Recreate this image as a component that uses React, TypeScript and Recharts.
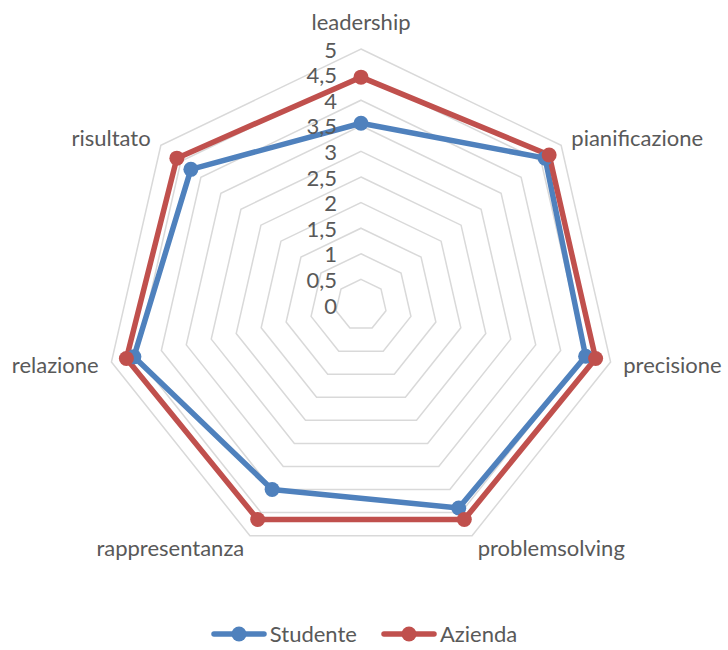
import React from 'react';
import { RadarChart, Radar, PolarGrid, PolarAngleAxis, PolarRadiusAxis, Legend } from 'recharts';

const categories = ['leadership', 'pianificazione', 'precisione', 'problemsolving', 'rappresentanza', 'relazione', 'risultato'];
const studente = [3.55, 4.6, 4.5, 4.4, 4.0, 4.55, 4.25];
const azienda = [4.45, 4.7, 4.7, 4.65, 4.65, 4.7, 4.6];
const radiusTicks = [0, 0.5, 1, 1.5, 2, 2.5, 3, 3.5, 4, 4.5, 5];
const seriesNames = ['Studente', 'Azienda'];
const seriesColors = ['#4f81bd', '#c0504d'];

const data = categories.map((c, i) => ({ cat: c, Studente: studente[i], Azienda: azienda[i] }));

const W = 728;
const H = 650;
const CX = 361;
const CY = 305;
const R = 256;
const FONT = 'Lato, "Open Sans", sans-serif';
const FS = 22;
const TEXT = '#595959';

const AngleTick = (props: any) => {
  const { x, y, payload } = props;
  const dx = x - CX;
  const dy = y - CY;
  const len = Math.hypot(dx, dy) || 1;
  const ux = dx / len;
  const uy = dy / len;
  const vx = CX + ux * R;
  const vy = CY + uy * R;
  let tx = vx + ux * 13;
  let ty = vy + uy * 13;
  let anchor: 'start' | 'middle' | 'end' = 'middle';
  if (Math.abs(ux) < 0.1) {
    tx = vx;
    ty = vy + (uy < 0 ? -28 : 28);
  } else {
    anchor = ux > 0 ? 'start' : 'end';
  }
  return (
    <text x={tx} y={ty} textAnchor={anchor} dominantBaseline="central" fill={TEXT} fontSize={FS} fontFamily={FONT}>
      {payload.value}
    </text>
  );
};

const RadiusTick = (props: any) => {
  const { x, y, payload } = props;
  const label = String(payload.value).replace('.', ',');
  return (
    <text x={x - 24} y={y} textAnchor="end" dominantBaseline="central" fill={TEXT} fontSize={FS} fontFamily={FONT}>
      {label}
    </text>
  );
};

const makeDot = (color: string) => (p: any) => (
  <circle key={`d-${p.index}`} cx={p.cx} cy={p.cy} r={7.5} fill={color} stroke="none" />
);

const renderLegend = () => (
  <div style={{ display: 'flex', justifyContent: 'center', alignItems: 'center', fontFamily: FONT, fontSize: FS, color: TEXT }}>
    {seriesNames.map((n, i) => (
      <div key={n} style={{ display: 'flex', alignItems: 'center', marginLeft: i === 0 ? 0 : 24 }}>
        <svg width={56} height={18} style={{ marginRight: 3 }}>
          <line x1={3} y1={9} x2={53} y2={9} stroke={seriesColors[i]} strokeWidth={5.5} strokeLinecap="round" />
          <circle cx={28} cy={9} r={7.5} fill={seriesColors[i]} />
        </svg>
        <span>{n}</span>
      </div>
    ))}
  </div>
);

export default function App() {
  return (
    <div style={{ position: 'absolute', left: 0, top: 0, width: W, height: H, background: '#fff' }}>
      <RadarChart width={W} height={H} data={data} cx={CX} cy={CY} outerRadius={R} margin={{ top: 0, right: 0, bottom: 0, left: 0 }}>
        <PolarGrid gridType="polygon" radialLines={false} stroke="#d9d9d9" strokeWidth={1.5} />
        <PolarAngleAxis dataKey="cat" tick={AngleTick} tickLine={false} axisLine={false} />
        <PolarRadiusAxis angle={90} type="number" domain={[0, 5]} ticks={radiusTicks as any} tickCount={11} tick={RadiusTick} tickLine={false} axisLine={false} />
        <Radar name="Studente" dataKey="Studente" stroke={seriesColors[0]} strokeWidth={5.5} strokeLinejoin="round" fill="none" fillOpacity={0}
          dot={makeDot(seriesColors[0])} isAnimationActive={false} />
        <Radar name="Azienda" dataKey="Azienda" stroke={seriesColors[1]} strokeWidth={5.5} strokeLinejoin="round" fill="none" fillOpacity={0}
          dot={makeDot(seriesColors[1])} isAnimationActive={false} />
        <Legend content={renderLegend} wrapperStyle={{ position: 'absolute', top: 620, left: 0, width: W }} />
      </RadarChart>
    </div>
  );
}
